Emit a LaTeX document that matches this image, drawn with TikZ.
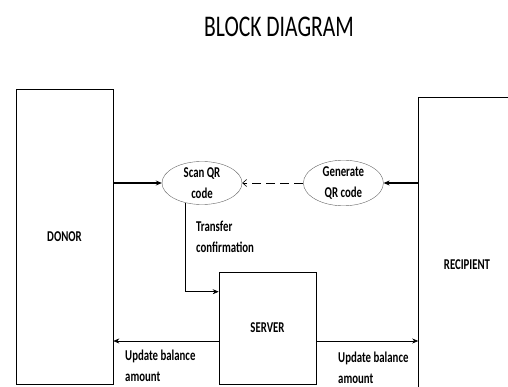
\documentclass[tikz,border=0pt]{standalone}
\usepackage{fontspec}
\setmainfont{Carlito}[FakeStretch=0.72]
\usetikzlibrary{arrows.meta,positioning,shapes.geometric}

\begin{document}
\begin{tikzpicture}[%
    x=1pt, y=-1pt,                  % page units, y grows downwards
    >={Stealth[length=6pt,width=5pt]},
    node distance=61pt,             % gap between the two QR bubbles
    ]

\tikzset{
    base/.style={draw, align=center, font={\fontsize{15}{20.5}\selectfont\bfseries}},
    block/.style={base, rectangle, semithick, minimum width=97pt},
    bubble/.style={base, ellipse, thin, draw=black!60, minimum width=80pt, minimum height=43pt, inner sep=0pt},
    note/.style={align=left, inner sep=0pt, anchor=north west, font={\fontsize{15}{20.5}\selectfont\bfseries}},
    % Arrows
    fforw/.style={->, semithick},
    fmain/.style={->, line width=1.6pt},
    fqr/.style={-{Straight Barb[length=4pt,width=7pt]}, semithick, dash pattern=on 9pt off 5pt},
}

\useasboundingbox (0,0) rectangle (508,387);

\node [font=\fontsize{30}{36}\selectfont] (title) at (279,27) {BLOCK DIAGRAM};

%% Parties
\node [block, minimum height=295pt] (donor) at (64.5,236.5) {DONOR};
\node [block, minimum height=336pt] (recip) at (467,265) {RECIPIENT};
\node [block, minimum height=112pt] (server) at (267.5,328) {SERVER};

%% QR exchange
\node [bubble] (scan) at (202,183) {Scan QR\\code};
\node [bubble, right=of scan] (gen) {Generate\\QR code};
    \draw[fmain] (donor.east |- scan) -- (scan);
    \draw[fmain] (recip.west |- gen) -- (gen);
    \draw[fqr] (gen) -- (scan);

%% Confirmation to the server
    \draw[fforw] (scan.230) |- ([yshift=-20pt]server.north west);
\node [note] (conflbl) at (196,221) {Transfer\\confirmation};

%% Balance updates
\coordinate (upd) at ([yshift=-13pt]server.west);
\coordinate (updr) at ([yshift=-13pt]server.east);
    \draw[fforw] (upd) -- (upd -| donor.east);
    \draw[fforw] (updr) -- (updr -| recip.west);
\node [note] (updl) at (125,350) {Update balance\\amount};
\node [note] (updrl) at (338,352) {Update balance\\amount};
\end{tikzpicture}
\end{document}
